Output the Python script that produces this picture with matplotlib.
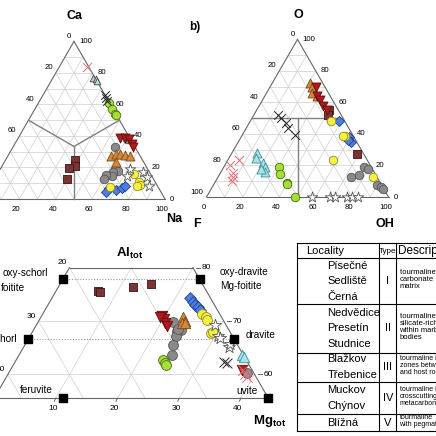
import numpy as np
import matplotlib.pyplot as plt

plt.rcParams['font.family'] = ['Liberation Sans', 'DejaVu Sans']
plt.rcParams['mathtext.fontset'] = 'custom'
plt.rcParams['mathtext.rm'] = 'Liberation Sans'
plt.rcParams['mathtext.bf'] = 'Liberation Sans:bold'

# panel a: X site, (Ca %, Na %), vacancy is the rest
xs_brown = [(25, 38), (21, 40), (19.5, 37.5), (13, 39.5)]
xs_gray = [(38, 60), (33, 56), (19, 63), (18, 65), (17, 63), (14.5, 63.5), (15, 60), (13, 60)]
xs_orange = [(27, 57), (28.5, 59), (28.5, 61), (28, 64), (27, 67), (23.5, 61.5)]
xs_red = [(39, 55.5), (38.5, 58.5), (38, 61), (35, 64.5), (33, 66)]
xs_green = [(61, 38.5), (57, 42.5), (54, 45.5), (53, 46.5)]
xs_blue = [(7, 65.5), (5.5, 70.5), (7, 73), (8, 74), (4.5, 65.5)]
xs_yellow = [(16, 75), (11, 80), (9, 82), (8, 80.5), (7.5, 66)]
xs_star = [(19, 71), (14.5, 72), (17, 79.5), (14, 83), (8, 87)]
xs_cyan = [(77, 22), (76, 24), (75, 25)]
xs_blackx = [(66, 34), (64, 35.5), (62, 37)]
xs_redx = [(84, 15)]

# panel b: W site, (O %, OH %), F is the rest
ws_brown = [(55, 40), (52, 41), (27, 69)]
ws_gray = [(19, 77), (13, 73), (14, 77), (7.5, 90), (6.5, 92.5), (5, 94.5), (18, 80)]
ws_orange = [(72.5, 20.5), (70, 23), (66, 25), (64, 28.5)]
ws_red = [(70, 25), (64, 28.5), (61.5, 31.5), (57.5, 35.5), (55, 38.5)]
ws_green = [(19, 30.5), (14.5, 33), (9, 39.5), (8, 40.5), (0, 48.5)]
ws_blue = [(48, 49), (38, 59.5), (35, 62), (36, 60)]
ws_yellow = [(48.5, 44), (39, 56.5), (23.5, 58), (12.5, 85), (39, 55.5)]
ws_star = [(0, 57.8), (0, 67.9), (0, 70.6), (0, 77), (0, 79.8), (0, 83.4)]
ws_cyan = [(28, 14), (24.5, 15), (21.5, 20.5), (19, 22.5), (16, 24), (18, 21)]
ws_blackx = [(52, 13.5), (50, 16), (47, 20), (43.5, 23), (39.5, 29)]
ws_redx = [(20, 3), (23.5, 6), (15, 7), (13, 8), (10, 9)]

# panel c: (Al_tot %, Mg_tot %), Fe_tot is the rest
am_brown = [(75.7, 6.7), (75.4, 7.3), (76.3, 12.1), (76.9, 14.7)]
am_gray = [(69.9, 21.9), (68.3, 24.0), (68.1, 23.3), (67.2, 23.7), (65.5, 24.1),
           (63.7, 24.7), (68.6, 23.3), (60.2, 38.6)]
am_orange = [(70.7, 23.0), (70.1, 23.6), (69.6, 23.4), (69.6, 23.9)]
am_red = [(70.9, 19.5), (70.3, 20.1), (69.6, 20.7), (69.1, 21.2), (70.7, 19.3), (60.8, 37.6)]
am_green = [(62.8, 23.8), (62.1, 24.4), (61.8, 24.8)]
am_blue = [(74.3, 22.4), (73.6, 23.2), (73.0, 23.8), (72.6, 24.6), (72.1, 25.1)]
am_yellow = [(71.3, 25.8), (70.7, 26.8), (70.2, 27.2), (67.8, 29.0), (68.0, 29.3)]
am_star = [(69.3, 28.9), (67.2, 30.5), (66.8, 31.0), (65.2, 33.2), (65.8, 33.1)]
am_cyan = [(63.7, 36.1), (63.3, 36.7)]
am_blackx = [(62.4, 33.8), (62.1, 34.4)]
am_redx = [(60.8, 37.8), (60.1, 38.4), (59.6, 39.0)]

end_names = ['oxy-dravite', 'dravite', 'uvite', 'oxy-schorl', 'schorl', 'feruvite']
end_al = [77.8, 66.7, 55.6, 77.8, 66.7, 55.6]
end_mg = [22.2, 33.3, 44.4, 0, 0, 11.1]

# table
localities = [['Písečné', 'Sedliště', 'Černá'], ['Nedvědice', 'Presetín', 'Studnice'],
              ['Blažkov', 'Třebenice'], ['Muckov', 'Chýnov'], ['Blížná']]
types = ['I', 'II', 'III', 'IV', 'V']
descs = [['tourmaline in', 'carbonate', 'matrix'],
         ['tourmaline in', 'silicate-rich', 'within marble', 'bodies'],
         ['tourmaline in', 'zones between', 'and host rock'],
         ['tourmaline in', 'crosscutting', 'metacarbonate'],
         ['tourmaline', 'with pegmatite']]

order = ['brown', 'gray', 'orange', 'red', 'green', 'blue', 'yellow', 'star', 'cyan', 'blackx', 'redx']
xsite = dict(zip(order, [xs_brown, xs_gray, xs_orange, xs_red, xs_green, xs_blue,
                         xs_yellow, xs_star, xs_cyan, xs_blackx, xs_redx]))
wsite = dict(zip(order, [ws_brown, ws_gray, ws_orange, ws_red, ws_green, ws_blue,
                         ws_yellow, ws_star, ws_cyan, ws_blackx, ws_redx]))
almg = dict(zip(order, [am_brown, am_gray, am_orange, am_red, am_green, am_blue,
                        am_yellow, am_star, am_cyan, am_blackx, am_redx]))

style = {
    'brown': ('s', '#7b3434', '#3b1515', 28),
    'gray': ('o', '#8a8a8a', '#555555', 36),
    'orange': ('^', '#d3893b', '#7a4a18', 40),
    'red': ('v', '#b3191c', '#5a0d0d', 40),
    'green': ('o', '#a5e034', '#4d6b14', 36),
    'blue': ('D', '#4d7fe0', '#1f3f8f', 25),
    'yellow': ('o', '#f7f03c', '#8a8a3a', 36),
    'star': ('*', 'white', '#555555', 60),
    'cyan': ('^', '#a9e3ea', '#3c8c98', 40),
    'blackx': ('x', '#222222', None, 36),
    'redx': ('x', '#e0707a', None, 40),
}

fig = plt.figure(figsize=(4.36, 4.36), dpi=100)
ax = fig.add_axes([0, 0, 1, 1])
ax.set_xlim(0, 436)
ax.set_ylim(436, 0)
ax.axis('off')

R3 = np.sqrt(3) / 2


def txy(top, right, x0, y0, side):
    top = np.asarray(top, dtype=float) / 100
    right = np.asarray(right, dtype=float) / 100
    return x0 + side * right + side / 2 * top, y0 - side * R3 * top


def seg(p, q, geo, **kw):
    x, y = txy([p[0], q[0]], [p[1], q[1]], *geo)
    ax.plot(x, y, **kw)


def points(data, geo, scale=1.0, small=()):
    for g in order:
        pts = np.array(data[g], dtype=float)
        x, y = txy(pts[:, 0], pts[:, 1], *geo)
        m, fc, ec, s = style[g]
        s = s * scale * (0.55 if g in small else 1)
        if ec is None:
            ax.scatter(x, y, marker=m, c=fc, s=s, linewidths=0.7, zorder=5)
        else:
            if g in small:
                ec = '#5a3a3a'
            ax.scatter(x, y, marker=m, facecolors=fc, edgecolors=ec, s=s,
                       linewidths=0.6, zorder=5)


def full_triangle(geo):
    grid = dict(color='#cfcfcf', lw=0.5, zorder=1)
    for v in range(10, 100, 10):
        seg((v, 0), (v, 100 - v), geo, **grid)
        seg((0, v), (100 - v, v), geo, **grid)
        seg((0, 100 - v), (100 - v, 0), geo, **grid)
    edge = dict(color='#666666', lw=0.8, zorder=2)
    seg((0, 0), (100, 0), geo, **edge)
    seg((100, 0), (0, 100), geo, **edge)
    seg((0, 0), (0, 100), geo, **edge)
    for v in range(0, 101, 20):
        x, y = txy(v, 100 - v, *geo)
        ax.text(x + 5, y, str(v), fontsize=5.6, ha='left', va='center')
        x, y = txy(100 - v, 0, *geo)
        ax.text(x - 3, y - 5, str(v), fontsize=5.6, ha='right', va='center')
        x, y = txy(0, v, *geo)
        ax.text(x - 3, y + 10, str(v), fontsize=5.6, ha='center', va='center')


# panel a
geo_a = (-17, 199, 182)
full_triangle(geo_a)
field = dict(color='#808080', lw=1.0, zorder=3)
c = 100 / 3
seg((c, c), (50, 0), geo_a, **field)
seg((c, c), (50, 50), geo_a, **field)
seg((c, c), (0, 50), geo_a, **field)
points(xsite, geo_a, scale=1.05, small=('cyan',))
ax.text(74, 16, 'Ca', fontsize=9, fontweight='bold', ha='center', va='center')
ax.text(174, 219, 'Na', fontsize=9, fontweight='bold', ha='center', va='center')

# panel b
geo_b = (206.5, 197, 182)
full_triangle(geo_b)
seg((50, 0), (50, 50), geo_b, **field)
seg((50, 25), (0, 50), geo_b, **field)
points(wsite, geo_b, scale=1.05)
ax.text(298, 15, 'O', fontsize=9, fontweight='bold', ha='center', va='center')
ax.text(189, 27, 'b)', fontsize=8.5, fontweight='bold', ha='left', va='center')
ax.text(197, 224, 'F', fontsize=9, fontweight='bold', ha='center', va='center')
ax.text(385, 224, 'OH', fontsize=9, fontweight='bold', ha='center', va='center')

# panel c: truncated Al-Fe-Mg triangle
geo_c = (-177.3, 695.1, 617)
lo, hi = 500 / 9, 80
grid = dict(color='#cfcfcf', lw=0.5, zorder=1)
for v in (60, 70):
    seg((v, 0), (v, 100 - v), geo_c, **grid)
for f in (10, 20, 30, 40):
    a0 = min(hi, 100 - f)
    seg((a0, 100 - f - a0), (lo, 100 - f - lo), geo_c, **grid)
    seg((a0, f), (lo, f), geo_c, **grid)
dots = dict(color='#9a9a9a', lw=0.8, ls=(0, (1, 1.5)), zorder=1)
seg((end_al[3], 0), (end_al[0], end_mg[0]), geo_c, **dots)
seg((end_al[4], 0), (end_al[1], end_mg[1]), geo_c, **dots)
edge = dict(color='#666666', lw=0.8, zorder=2)
seg((hi, 0), (hi, 100 - hi), geo_c, **edge)
seg((lo, 0), (lo, 100 - lo), geo_c, **edge)
seg((hi, 0), (lo, 0), geo_c, **edge)
seg((hi, 100 - hi), (lo, 100 - lo), geo_c, **edge)
for v in (80, 70, 60):
    x, y = txy(v, 100 - v, *geo_c)
    ax.plot([x + 3, x + 7], [y, y], color='#666666', lw=0.7)
    ax.text(x + 9, y, str(v), fontsize=6, ha='left', va='center')
    x, y = txy(v, 0, *geo_c)
    ax.text(x - 3, y - 5, str(100 - v), fontsize=6, ha='right', va='center')
for v in (10, 20, 30, 40):
    x, y = txy(lo, v, *geo_c)
    ax.plot([x, x - 1.5], [y, y + 3], color='#666666', lw=0.7)
    ax.text(x - 3, y + 10, str(v), fontsize=6, ha='center', va='center')
points(almg, geo_c, scale=1.4)
ex, ey = txy(end_al, end_mg, *geo_c)
ax.scatter(ex, ey, marker='s', c='black', s=30, zorder=6)
lab = {'oxy-dravite': (220, 272, 'left'), 'dravite': (246, 335, 'left'),
       'uvite': (236, 391, 'left'), 'oxy-schorl': (48, 273, 'right'),
       'schorl': (17, 339, 'right'), 'feruvite': (20, 390, 'left')}
for n in end_names:
    x, y, ha = lab[n]
    ax.text(x, y, n, fontsize=7.2, ha=ha, va='center')
ax.text(220, 286, 'Mg-foitite', fontsize=7.2, ha='left', va='center')
ax.text(25, 288, 'foitite', fontsize=7.2, ha='right', va='center')
ax.text(130, 253, r'$\mathbf{Al_{tot}}$', fontsize=9.5, ha='center', va='center')
ax.text(270, 421, r'$\mathbf{Mg_{tot}}$', fontsize=9.5, ha='center', va='center')

# table
tl, c1, c2, tr = 297.3, 379.3, 396, 460
rows = [243.3, 258.3, 304, 352.7, 381.7, 414.3, 431]
for y in rows:
    ax.plot([tl, tr], [y, y], color='black', lw=0.8)
for x in (tl, c1, c2):
    ax.plot([x, x], [rows[0], rows[-1]], color='black', lw=0.8)
ax.text(306, 251, 'Locality', fontsize=8, ha='left', va='center')
ax.text(387.7, 251, 'Type', fontsize=5.8, ha='center', va='center')
ax.text(397.5, 251, 'Description', fontsize=8.5, ha='left', va='center')
for i in range(len(types)):
    yc = (rows[i + 1] + rows[i + 2]) / 2
    names = localities[i]
    for j, n in enumerate(names):
        ax.text(327.5, yc + (j - (len(names) - 1) / 2) * 15.5, n, fontsize=8,
                ha='left', va='center')
    ax.text(387.7, yc, types[i], fontsize=8, ha='center', va='center')
    d = descs[i]
    fs = 5.5 if i < 2 else 5.0
    for j, t in enumerate(d):
        ax.text(399.5, yc - 1.5 + (j - (len(d) - 1) / 2) * 7.2, t, fontsize=fs,
                ha='left', va='center')

fig.savefig('out.png', dpi=100)
